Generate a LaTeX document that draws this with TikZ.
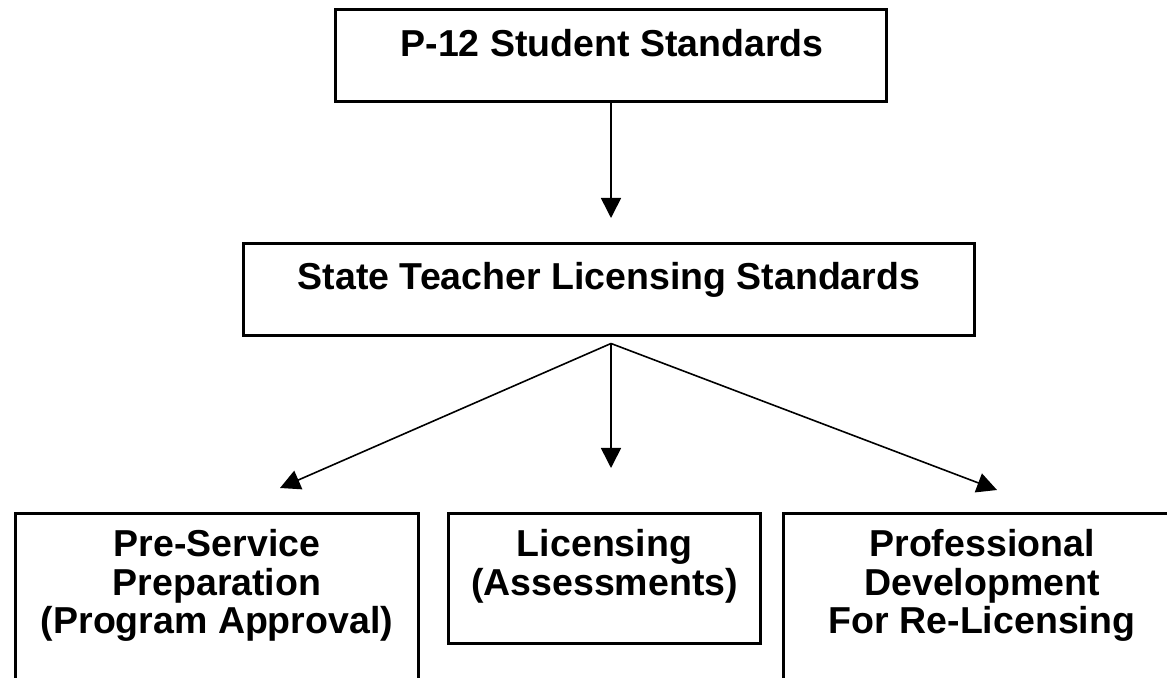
\documentclass[tikz,border=0pt]{standalone}
\usepackage{fontspec}
\setmainfont{Liberation Sans}
\usetikzlibrary{arrows.meta,calc}
\begin{document}
\begin{tikzpicture}[x=0.5pt,y=-0.5pt,
  boxstyle/.style={draw=black, line width=1.5pt, fill=white, inner sep=0pt, outer sep=0pt},
  lbl/.style={font=\fontsize{18.75}{19.25}\selectfont\bfseries, inner sep=0pt, align=center},
  arr/.style={line width=0.8pt, -{Triangle[length=10pt,width=10pt]}}]
\useasboundingbox (0,0) rectangle (1167,678);
\clip (0,0) rectangle (1167,678);
\fill[white] (0,0) rectangle (1167,678);
% boxes
\node[boxstyle, minimum width=275.5pt, minimum height=46pt] (b1) at (611,55.5) {};
\node[boxstyle, minimum width=365.5pt, minimum height=46pt] (b2) at (609,289.5) {};
\node[boxstyle, minimum width=201.5pt, minimum height=103.25pt] (b3) at (217,616.75) {};
\node[boxstyle, line width=1.3pt, minimum width=156pt, minimum height=65pt] (b4) at (604.5,578.5) {};
\node[boxstyle, minimum width=198.5pt, minimum height=103.25pt] (b5) at (982,616.75) {};
% texts
\node[lbl, anchor=base] (t1) at (612,57) {P-12 Student Standards};
\node[lbl, anchor=base] (t2) at (609,290) {State Teacher Licensing Standards};
\node[lbl, anchor=north] (t3) at (217,529) {Pre-Service\\Preparation\\(Program Approval)};
\node[lbl, anchor=north] (t4) at (604.5,529) {Licensing\\(Assessments)};
\node[lbl, anchor=north] (t5) at (982,529) {Professional\\Development\\For Re-Licensing};
% connectors
\coordinate (tipTop) at ($(b1.south |- b2.north)+(0,-25.5)$);
\coordinate (apex) at ($(b2.south)+(2,8)$);
\coordinate (tipL) at (280,488);
\coordinate (tipM) at (611,468);
\coordinate (tipR) at (997,490);
\draw[arr] (b1.south) -- (tipTop);
\draw[arr] (apex) -- (tipL);
\draw[arr] (apex) -- (tipM);
\draw[arr] (apex) -- (tipR);
\end{tikzpicture}
\end{document}
